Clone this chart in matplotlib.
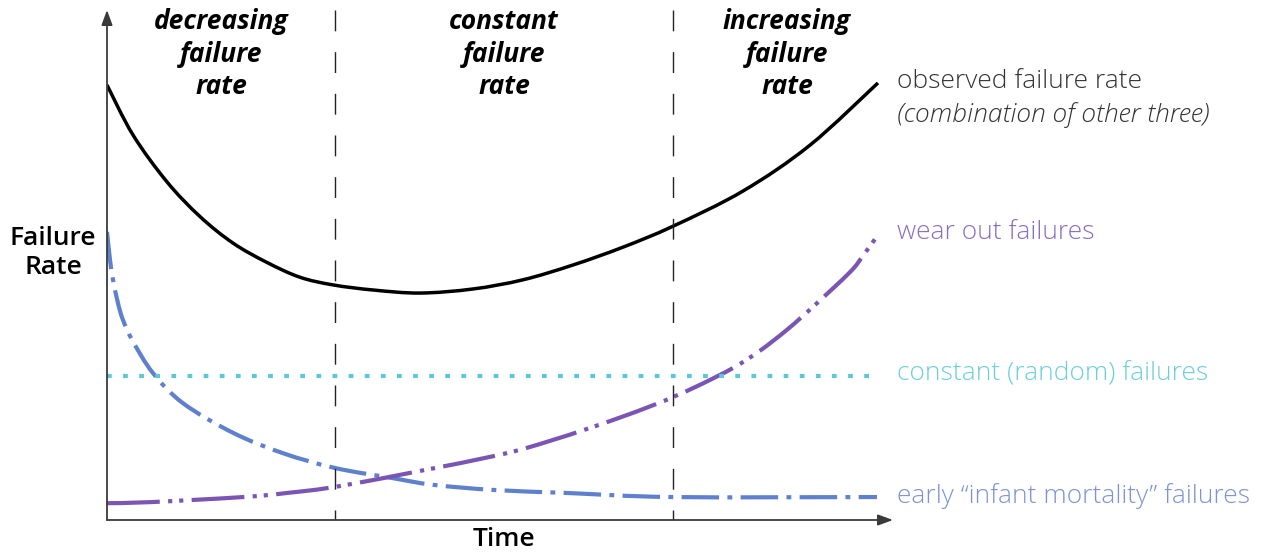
import matplotlib
matplotlib.use("Agg")
import matplotlib.pyplot as plt
from matplotlib.path import Path
from matplotlib.patches import PathPatch
from matplotlib import transforms

plt.rcParams['font.family'] = ['Open Sans', 'DejaVu Sans']
plt.rcParams['lines.scale_dashes'] = False

# ---- data (time in arbitrary units 0..10, failure rate in arbitrary units 0..10) ----
obs_t = [0, 0.337, 0.778, 1.206, 1.634, 2.075, 2.503, 2.931, 3.450, 4.060, 4.747, 5.396,
         6.044, 6.693, 7.341, 8.249, 9.118, 10.0]
obs_r = [8.53, 7.55, 6.63, 5.95, 5.43, 5.05, 4.76, 4.61, 4.51, 4.45, 4.53, 4.71,
         5.00, 5.35, 5.76, 6.45, 7.35, 8.57]

wear_t = [0, 0.558, 1.764, 2.335, 3.113, 5.006, 5.785, 6.563, 7.082, 7.341,
          7.691, 8.119, 8.470, 8.820, 9.157, 9.637, 9.805, 10.0]
wear_r = [0.33, 0.35, 0.45, 0.53, 0.69, 1.25, 1.57, 1.96, 2.25, 2.41,
          2.65, 2.98, 3.32, 3.73, 4.18, 4.86, 5.18, 5.59]

early_t = [0, 0.039, 0.078, 0.143, 0.208, 0.337, 0.597, 0.986, 1.634,
           2.283, 2.957, 3.709, 4.228, 5.006, 5.966, 7.341, 9.987]
early_r = [5.65, 5.10, 4.71, 4.25, 3.92, 3.50, 2.88, 2.29, 1.71,
           1.31, 1.02, 0.82, 0.69, 0.59, 0.53, 0.45, 0.45]

const_t = [0, 9.99]
const_r = [2.82, 2.82]

phase_bounds = [2.957, 7.341]
phase_labels = ["decreasing\nfailure\nrate", "constant\nfailure\nrate", "increasing\nfailure\nrate"]
phase_centers = [1.48, 5.15, 8.82]

series_labels = ["observed failure rate", "(combination of other three)", "wear out failures",
                 "constant (random) failures", "early \u201cinfant mortality\u201d failures"]


def smooth_path(xs, ys):
    """Catmull-Rom curve through the points, expressed as cubic Bezier path segments."""
    pts = list(zip(xs, ys))
    n = len(pts)
    verts = [pts[0]]
    codes = [Path.MOVETO]
    for i in range(n - 1):
        p0 = pts[i - 1] if i > 0 else pts[i]
        p1 = pts[i]
        p2 = pts[i + 1]
        p3 = pts[i + 2] if i + 2 < n else pts[i + 1]
        c1 = (p1[0] + (p2[0] - p0[0]) / 6.0, p1[1] + (p2[1] - p0[1]) / 6.0)
        c2 = (p2[0] - (p3[0] - p1[0]) / 6.0, p2[1] - (p3[1] - p1[1]) / 6.0)
        verts += [c1, c2, p2]
        codes += [Path.CURVE4] * 3
    return Path(verts, codes)


# ---- figure ----
W, H = 1265, 555
fig = plt.figure(figsize=(W / 100, H / 100), dpi=100)
fig.patch.set_facecolor('white')


def fx(px):
    return px / W


def fy(py):
    return 1 - py / H


ax = fig.add_axes([fx(107), fy(520), fx(893) - fx(107), (520 - 10) / H])
ax.set_xlim(0, 10.195)
ax.set_ylim(0, 10)
ax.axis('off')

axis_col = '#3a3a3a'
for tip in [(1, 0), (0, 1)]:
    ax.annotate('', xy=tip, xytext=(0, 0), xycoords='axes fraction',
                arrowprops=dict(arrowstyle='-|>,head_length=0.9,head_width=0.33', color=axis_col,
                                lw=1.3, shrinkA=0, shrinkB=0), annotation_clip=False)

# phase boundaries
for b in phase_bounds:
    ax.plot([b, b], [10, 0], color='#222222', lw=1.0, dashes=(15, 15), solid_capstyle='butt')

# curves
ax.plot(const_t, const_r, color='#5cc8d6', lw=3.0, dashes=(3.4, 8.2), dash_capstyle='butt')
ax.add_patch(PathPatch(smooth_path(early_t, early_r), facecolor='none', edgecolor='#5f80cc',
                       lw=3.0, linestyle=(0, (27, 6, 3.5, 6)), capstyle='butt'))
ax.add_patch(PathPatch(smooth_path(wear_t, wear_r), facecolor='none', edgecolor='#7b55b3',
                       lw=3.0, linestyle=(0, (38, 6, 3, 5, 3, 6)), capstyle='butt'))
ax.add_patch(PathPatch(smooth_path(obs_t, obs_r), facecolor='none', edgecolor='black',
                       lw=2.5, capstyle='butt'))

# phase labels
blend = transforms.blended_transform_factory(ax.transData, fig.transFigure)
for c, lab in zip(phase_centers, phase_labels):
    ax.text(c, fy(54), lab, transform=blend, ha='center', va='center', fontsize=19,
            fontweight='bold', fontstyle='italic', linespacing=1.26, color='black')

# axis labels
fig.text(fx(53), fy(253), "Failure\nRate", ha='center', va='center', fontsize=19,
         fontweight='semibold', linespacing=1.25, color='black')
fig.text(fx(504), fy(540), "Time", ha='center', va='center', fontsize=19,
         fontweight='semibold', color='black')

# series labels
lx = fx(897)
fs = 19
fig.text(lx, fy(82), series_labels[0], ha='left', va='center', fontsize=fs,
         fontweight='light', color='#333333')
fig.text(lx, fy(115), series_labels[1], ha='left', va='center', fontsize=fs,
         fontweight='light', fontstyle='italic', color='#333333')
fig.text(lx, fy(233), series_labels[2], ha='left', va='center', fontsize=fs,
         fontweight='light', color='#8a6cc0')
fig.text(lx, fy(374), series_labels[3], ha='left', va='center', fontsize=fs,
         fontweight='light', color='#6ccfdc')
fig.text(lx, fy(496), series_labels[4], ha='left', va='center', fontsize=fs,
         fontweight='light', color='#7d93d3')

fig.savefig('out.png', dpi=100, facecolor='white')
